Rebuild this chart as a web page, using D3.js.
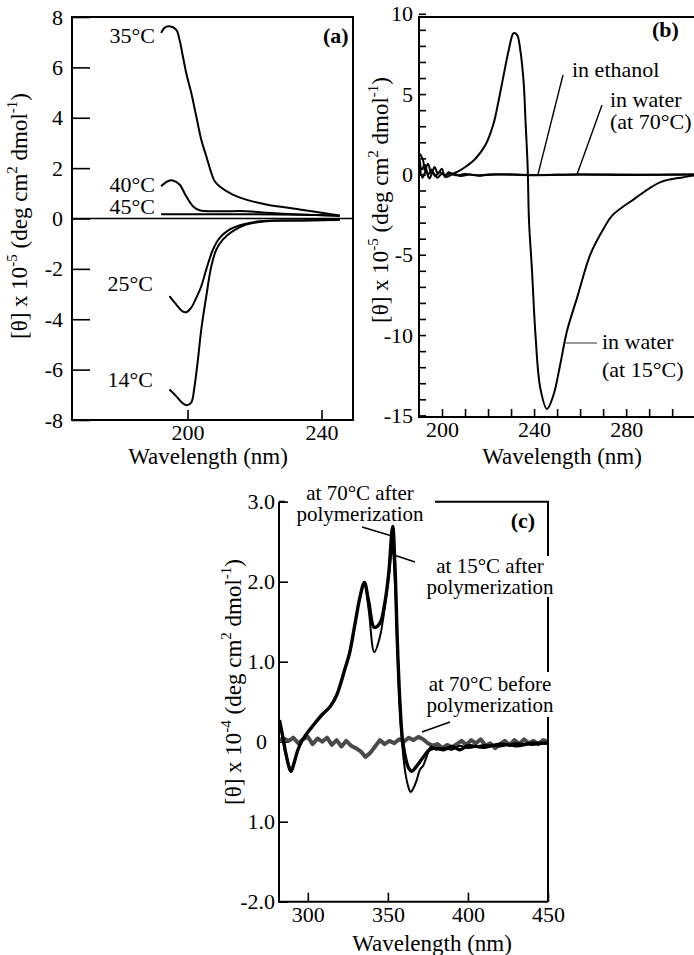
<!DOCTYPE html>
<html>
<head>
<meta charset="utf-8">
<script src="https://cdn.jsdelivr.net/npm/d3@7"></script>
<style>
  body { margin: 0; background: #fff; }
</style>
</head>
<body>
<script>
const width = 694
const height = 955
const serif = "'Liberation Serif', 'Times New Roman', serif"

// PANEL A DATA: [wavelength nm, theta x 1e-5]
const a35 = [[192.1, 7.37], [193.1, 7.57], [194.6, 7.63], [196.6, 7.5], [197.6, 7.1], [198.6, 6.44], [199.6, 5.78], [201.1, 4.99], [202.6, 4.06], [204.1, 3.13], [205.6, 2.47], [207.1, 1.81], [208.1, 1.48], [210.1, 1.22], [213.5, 0.95], [218.5, 0.71], [223.5, 0.56], [233.4, 0.36], [243.4, 0.16], [245.4, 0.12]]
const a40 = [[192.1, 1.28], [194.1, 1.48], [195.6, 1.51], [197.6, 1.35], [199.6, 0.88], [201.6, 0.49], [203.6, 0.33], [208.6, 0.29], [217.5, 0.29], [223.5, 0.23], [233.4, 0.16], [243.4, 0.12], [245.4, 0.1]]
const a45 = [[192.1, 0.17], [205, 0.17], [220, 0.17], [233.4, 0.15], [245.4, 0.11]]
const a25 = [[194.6, -3.08], [196.6, -3.41], [198.4, -3.68], [199.6, -3.72], [201.1, -3.54], [202.6, -3.15], [204.1, -2.69], [205.6, -2.02], [207.6, -1.23], [209.6, -0.77], [212.5, -0.44], [216.5, -0.24], [221.5, -0.11], [233, -0.08], [245.4, -0.06]]
const a14 = [[194.6, -6.79], [196.6, -7.05], [198.6, -7.34], [199.8, -7.41], [201.1, -7.31], [202.1, -6.65], [203.1, -5.6], [204.1, -4.4], [205.6, -3.08], [207.1, -1.89], [208.6, -1.23], [210.6, -0.83], [213.5, -0.5], [217.5, -0.24], [223.5, -0.11], [233, -0.08], [245.4, -0.05]]
const aTemps = ["35°C", "40°C", "45°C", "25°C", "14°C"]
const aYTicks = [-8, -6, -4, -2, 0, 2, 4, 6, 8]
const aXTicks = [200, 240]

// PANEL B DATA: [wavelength nm, theta x 1e-5]
const bWater15 = [[190.4, 1.29], [191.8, 0.87], [192.5, 0.25], [193.9, 0.67], [195.4, 0.04], [196.8, 0.46], [198.2, 0.05], [199.9, 0.35], [201.4, -0.17], [202.8, 0.14], [204.5, 0.05], [207.2, 0.2], [210.1, 0.46], [214.5, 0.98], [218.8, 1.81], [222.4, 3.17], [224.6, 4.6], [226.8, 6.2], [229, 7.75], [231.1, 8.79], [232.6, 8.69], [234, 7.75], [235.5, 5.67], [236.2, 3.58], [237.2, 0.5], [237.8, -2.9], [239.1, -6.0], [240.6, -9.96], [242.7, -13.3], [245.6, -14.6], [248.5, -13.7], [251.4, -11.8], [254.3, -9.75], [258.7, -7.67], [264.5, -4.96], [270.3, -3.35], [274, -2.55], [283.3, -1.55], [294.9, -0.48], [305, -0.17], [310, -0.05], [316, 0]]
const bEthanol = [[190.3, 0.5], [191.5, -0.2], [193, 0.2], [194.5, -0.25], [196, 0.1], [198, -0.2], [200, 0.05], [202, -0.15], [205, 0.05], [208, -0.1], [212, 0], [216, -0.08], [220, 0], [240, -0.03], [260, 0], [290, -0.02], [316, 0]]
const bWater70 = [[190.3, 0.9], [191.2, 0.3], [192.5, 0.6], [194, 0], [195.5, 0.3], [197, -0.1], [199, 0.15], [201, -0.05], [203, 0.05], [206, -0.05], [210, 0.02], [215, -0.05], [225, 0], [240, -0.05], [260, 0], [280, -0.03], [300, 0], [316, 0]]
const bYTicks = d3.range(-15, 11)
const bYLabels = [-15, -10, -5, 0, 5, 10]
const bXTicks = d3.range(200, 320, 10)
const bXLabels = [200, 240, 280]

// PANEL C DATA: [wavelength nm, theta x 1e-4]
const c70after = [[282.3, 0.27], [284, 0.1], [286, -0.12], [288.5, -0.33], [289.5, -0.37], [291.5, -0.26], [293.5, -0.12], [296, 0], [300, 0.12], [304, 0.22], [309, 0.34], [314, 0.44], [318, 0.58], [321, 0.76], [323, 0.9], [326, 1.1], [329, 1.42], [332.5, 1.8], [335.3, 1.99], [338, 1.75], [341.5, 1.43], [345, 1.48], [348.2, 1.75], [350.5, 2.1], [353, 2.69], [354.4, 2.2], [356, 1.2], [357.5, 0.5], [359, 0.05], [361, -0.2], [363, -0.33], [365, -0.37], [367, -0.33], [370, -0.25], [373, -0.17], [376, -0.1], [380, -0.08], [385, -0.1], [390, -0.06], [395, -0.1], [400, -0.05], [410, -0.07], [420, -0.03], [430, -0.05], [440, -0.02], [450, -0.02]]
const c15after = [[282.3, 0.27], [284, 0.08], [286, -0.14], [288.5, -0.35], [289.5, -0.38], [291.5, -0.27], [293.5, -0.12], [296, 0], [300, 0.12], [304, 0.22], [309, 0.34], [314, 0.44], [318, 0.58], [321, 0.76], [323, 0.9], [326, 1.1], [329, 1.42], [332.5, 1.8], [335.3, 1.98], [338, 1.65], [341.5, 1.12], [345, 1.31], [348.2, 1.7], [350.5, 2.05], [352.8, 2.42], [354.4, 2.0], [356, 1.1], [357.5, 0.4], [359, -0.05], [361, -0.4], [363, -0.58], [364.2, -0.63], [366, -0.58], [368, -0.48], [370, -0.35], [372, -0.3], [374, -0.2], [377, -0.06], [380, -0.1], [385, -0.08], [390, -0.1], [395, -0.05], [400, -0.08], [410, -0.04], [420, -0.06], [430, -0.02], [440, -0.04], [450, -0.01]]
const c70before = [[282, 0.02], [285, 0.04], [288, 0.01], [291, 0.05], [294, -0.02], [297, 0.03], [300, 0.06], [303, -0.03], [306, 0.04], [309, 0], [312, 0.05], [315, -0.04], [318, 0.02], [321, -0.06], [324, 0.01], [327, -0.05], [330, -0.08], [333, -0.12], [336, -0.19], [339, -0.14], [342, -0.06], [345, 0.02], [348, -0.03], [351, 0.01], [354, -0.02], [357, 0.03], [360, 0], [363, 0.05], [366, 0.02], [369, 0.06], [372, 0.03], [375, -0.02], [378, -0.05], [381, -0.03], [384, -0.08], [387, -0.04], [390, -0.07], [393, -0.03], [396, 0.01], [399, -0.04], [402, 0.02], [405, -0.02], [408, 0.03], [411, -0.05], [414, -0.02], [417, -0.08], [420, -0.03], [423, 0.01], [426, -0.04], [429, 0.02], [432, -0.03], [435, 0.03], [438, -0.02], [441, 0.01], [444, -0.03], [447, 0.02], [450, 0]]
const cYTicks = [-2, -1, 0, 1, 2, 3]
const cYLabels = ["-2.0", "1.0", "0", "1.0", "2.0", "3.0"]
const cXTicks = [300, 350, 400, 450]

const svg = d3
  .select("body")
  .append("svg")
  .attr("width", width)
  .attr("height", height)
  .attr("viewBox", [0, 0, width, height])
  .style("font-family", serif)

// SCALES
const xA = d3.scaleLinear().domain([165.5, 249.4]).range([72, 353])
const yA = d3.scaleLinear().domain([-8, 8]).range([420, 17])
const xB = d3.scaleLinear().domain([190, 316]).range([419, 709])
const yB = d3.scaleLinear().domain([-15.1, 9.8]).range([417, 17])
const xC = d3.scaleLinear().domain([282, 450]).range([279, 548])
const yC = d3.scaleLinear().domain([-2, 3]).range([901.7, 501.7])

const smooth = (x, y) =>
  d3.line().x((d) => x(d[0])).y((d) => y(d[1])).curve(d3.curveCatmullRom.alpha(0.5))
const rough = (x, y) =>
  d3.line().x((d) => x(d[0])).y((d) => y(d[1]))

function styleAxis(g) {
  g.attr("font-family", serif).attr("font-size", 22)
  g.select(".domain").remove()
  g.selectAll(".tick line").attr("stroke", "#000").attr("stroke-width", 1.6)
  g.selectAll(".tick text").attr("fill", "#000")
}

function yTitle(cx, cy, exp) {
  const t = svg
    .append("text")
    .attr("transform", `translate(${cx},${cy}) rotate(-90)`)
    .attr("text-anchor", "middle")
    .attr("dominant-baseline", "middle")
    .attr("font-size", 23)
  t.append("tspan").text("[θ] x 10")
  t.append("tspan").attr("dy", -8).attr("font-size", 15).text(exp)
  t.append("tspan").attr("dy", 8).text(" (deg cm")
  t.append("tspan").attr("dy", -8).attr("font-size", 15).text("2")
  t.append("tspan").attr("dy", 8).text(" dmol")
  t.append("tspan").attr("dy", -8).attr("font-size", 15).text("-1")
  t.append("tspan").attr("dy", 8).text(")")
}

function xTitle(cx, base) {
  svg
    .append("text")
    .attr("x", cx)
    .attr("y", base)
    .attr("text-anchor", "middle")
    .attr("font-size", 23)
    .text("Wavelength (nm)")
}

function label(x, y, txt, anchor, opts = {}) {
  return svg
    .append("text")
    .attr("x", x)
    .attr("y", y)
    .attr("text-anchor", anchor)
    .attr("font-size", opts.size || 21)
    .attr("font-weight", opts.bold ? "bold" : null)
    .text(txt)
}

function leader(x1, y1, x2, y2, color = "#000", w = 1.4) {
  svg
    .append("line")
    .attr("x1", x1).attr("y1", y1).attr("x2", x2).attr("y2", y2)
    .attr("stroke", color)
    .attr("stroke-width", w)
}

// ---------- PANEL A ----------
svg
  .append("g")
  .attr("transform", `translate(${xA.range()[0]},0)`)
  .call(
    d3.axisLeft(yA).tickValues(aYTicks).tickSizeInner(-18).tickSizeOuter(0).tickPadding(9).tickFormat((d) => String(d))
  )
  .call(styleAxis)

svg
  .append("g")
  .attr("transform", `translate(0,${yA.range()[0]})`)
  .call(
    d3.axisBottom(xA).tickValues(aXTicks).tickSizeInner(-10).tickSizeOuter(0).tickPadding(4).tickFormat((d) => String(d))
  )
  .call(styleAxis)

// zero reference
svg
  .append("line")
  .attr("x1", xA.range()[0]).attr("x2", xA.range()[1])
  .attr("y1", yA(0)).attr("y2", yA(0))
  .attr("stroke", "#000").attr("stroke-width", 1.4)

const aSeries = [a35, a40, a45, a25, a14]
svg
  .append("g")
  .selectAll("path")
  .data(aSeries)
  .join("path")
  .attr("d", (d) => smooth(xA, yA)(d))
  .attr("fill", "none")
  .attr("stroke", "#000")
  .attr("stroke-width", 2)

svg
  .append("rect")
  .attr("x", xA.range()[0])
  .attr("y", yA.range()[1])
  .attr("width", xA.range()[1] - xA.range()[0])
  .attr("height", yA.range()[0] - yA.range()[1])
  .attr("fill", "none")
  .attr("stroke", "#000")
  .attr("stroke-width", 2)

label(155, 43, aTemps[0], "end", { size: 22 })
label(155, 192, aTemps[1], "end", { size: 22 })
label(155, 214, aTemps[2], "end", { size: 22 })
label(153, 291, aTemps[3], "end", { size: 22 })
label(153, 387, aTemps[4], "end", { size: 22 })
label(323, 43, "(a)", "start", { bold: true, size: 22 })

yTitle(22, 216, "-5")
xTitle(208, 464)

// ---------- PANEL B ----------
svg
  .append("g")
  .attr("transform", `translate(${xB.range()[0]},0)`)
  .call(
    d3.axisLeft(yB).tickValues(bYTicks).tickSizeInner(-7).tickSizeOuter(0).tickPadding(6)
      .tickFormat((d) => (bYLabels.includes(d) ? String(d) : ""))
  )
  .call(styleAxis)

svg
  .append("g")
  .attr("transform", `translate(0,${yB.range()[0]})`)
  .call(
    d3.axisBottom(xB).tickValues(bXTicks).tickSizeInner(-8).tickSizeOuter(0).tickPadding(4)
      .tickFormat((d) => (bXLabels.includes(d) ? String(d) : ""))
  )
  .call(styleAxis)

const bSeries = [bEthanol, bWater70, bWater15]
svg
  .append("g")
  .selectAll("path")
  .data(bSeries)
  .join("path")
  .attr("d", (d) => smooth(xB, yB)(d))
  .attr("fill", "none")
  .attr("stroke", "#000")
  .attr("stroke-width", 2)

svg
  .append("rect")
  .attr("x", xB.range()[0])
  .attr("y", yB.range()[1])
  .attr("width", xB.range()[1] - xB.range()[0])
  .attr("height", yB.range()[0] - yB.range()[1])
  .attr("fill", "none")
  .attr("stroke", "#000")
  .attr("stroke-width", 2)

label(572, 77, "in ethanol", "start", { size: 22 })
leader(563, 75, 538, yB(0))
label(610, 107, "in water", "start", { size: 22 })
label(610, 129, "(at 70°C)", "start", { size: 22 })
leader(602, 105, 577, yB(0))
label(602, 349, "in water", "start", { size: 22 })
label(602, 377, "(at 15°C)", "start", { size: 22 })
leader(565, 343, 597, 343, "#555", 1.2)
label(652, 37, "(b)", "start", { bold: true, size: 22 })

yTitle(383, 200, "-5")
xTitle(562, 464)

// ---------- PANEL C ----------
svg
  .append("g")
  .attr("transform", `translate(${xC.range()[0]},0)`)
  .call(
    d3.axisLeft(yC).tickValues(cYTicks).tickSizeInner(-9).tickSizeOuter(0).tickPadding(4)
      .tickFormat((d, i) => cYLabels[i])
  )
  .call(styleAxis)
  .call((g) => g.selectAll(".tick text").filter((d) => d === 0).attr("dx", -8))

svg
  .append("g")
  .attr("transform", `translate(0,${yC.range()[0]})`)
  .call(
    d3.axisBottom(xC).tickValues(cXTicks).tickSizeInner(-9).tickSizeOuter(0).tickPadding(5).tickFormat((d) => String(d))
  )
  .call(styleAxis)

svg
  .append("path")
  .attr("d", rough(xC, yC)(c70before))
  .attr("fill", "none")
  .attr("stroke", "#4a4a4a")
  .attr("stroke-width", 4)
  .attr("stroke-linejoin", "round")

svg
  .append("path")
  .attr("d", smooth(xC, yC)(c15after))
  .attr("fill", "none")
  .attr("stroke", "#000")
  .attr("stroke-width", 2)

svg
  .append("path")
  .attr("d", smooth(xC, yC)(c70after))
  .attr("fill", "none")
  .attr("stroke", "#000")
  .attr("stroke-width", 3.4)

// broken frame of panel c
const cl = xC.range()[0], cr = xC.range()[1]
const ct = yC.range()[1], cb = yC.range()[0]
const frameC = [
  [[cl, ct], [cl, cb], [cr, cb]],
  [[cl, ct], [cl + 6, ct]],
  [[435, ct], [cr, ct], [cr, 556]],
  [[cr, 597], [cr, 672]],
  [[cr, 717], [cr, cb]],
]
svg
  .append("g")
  .selectAll("path")
  .data(frameC)
  .join("path")
  .attr("d", d3.line())
  .attr("fill", "none")
  .attr("stroke", "#000")
  .attr("stroke-width", 2)

label(360, 500, "at 70°C after", "middle")
label(360, 521, "polymerization", "middle")
leader(362, 527, 392, 536)
label(490, 573, "at 15°C after", "middle")
label(490, 594, "polymerization", "middle")
leader(394, 555, 415, 562)
label(490, 691, "at 70°C before", "middle")
label(490, 712, "polymerization", "middle")
leader(422, 732, 450, 722)
label(523, 528, "(c)", "middle", { bold: true, size: 22 })

yTitle(236, 682, "-4")
xTitle(432, 951)
</script>
</body>
</html>
